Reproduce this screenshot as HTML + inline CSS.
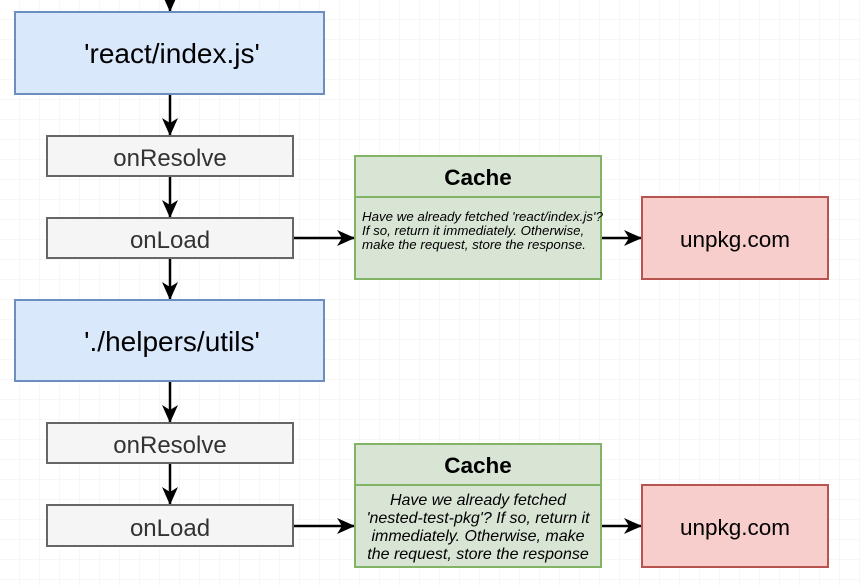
<!DOCTYPE html>
<html><head><style>
html,body{margin:0;padding:0;background:#fff}
svg{display:block}
text{font-family:"Liberation Sans",sans-serif}
</style></head><body>
<svg width="860" height="586" viewBox="0 0 860 586" xmlns="http://www.w3.org/2000/svg">
<defs>
<pattern id="g" width="20" height="20" patternUnits="userSpaceOnUse">
<path d="M20 0V20M0 20H20" stroke="#efefef" stroke-width="1" fill="none"/>
</pattern>
<marker id="a" markerWidth="18" markerHeight="16" refX="17" refY="8" orient="auto" markerUnits="userSpaceOnUse">
<path d="M0,0 L18,8 L0,16 L5,8 Z" fill="#000"/>
</marker>
</defs>
<rect width="860" height="586" fill="url(#g)"/>
<g stroke="#000" stroke-width="2.5" fill="none" marker-end="url(#a)">
<line x1="170" y1="-10" x2="170" y2="11"/>
<line x1="170" y1="95" x2="170" y2="135"/>
<line x1="170" y1="177" x2="170" y2="217"/>
<line x1="170" y1="259" x2="170" y2="299"/>
<line x1="170" y1="382" x2="170" y2="422"/>
<line x1="170" y1="464" x2="170" y2="504"/>
<line x1="294" y1="238" x2="354" y2="238"/>
<line x1="602" y1="238" x2="641" y2="238"/>
<line x1="294" y1="526" x2="354" y2="526"/>
<line x1="602" y1="526" x2="641" y2="526"/>
</g>
<g stroke="#6c8ebf" stroke-width="2" fill="#dae8fc">
<rect x="15" y="12" width="309" height="82"/>
<rect x="15" y="300" width="309" height="81"/>
</g>
<g stroke="#666" stroke-width="2" fill="#f5f5f5">
<rect x="47" y="136" width="246" height="40"/>
<rect x="47" y="218" width="246" height="40"/>
<rect x="47" y="423" width="246" height="40"/>
<rect x="47" y="505" width="246" height="41"/>
</g>
<g stroke="#82b366" stroke-width="2" fill="#d8e4d4">
<rect x="355" y="156" width="246" height="123"/>
<line x1="355" y1="197" x2="601" y2="197"/>
<rect x="355" y="444" width="246" height="123"/>
<line x1="355" y1="485" x2="601" y2="485"/>
</g>
<g stroke="#b85450" stroke-width="2" fill="#f8cecc">
<rect x="642" y="197" width="186" height="82"/>
<rect x="642" y="485" width="186" height="82"/>
</g>
<g text-anchor="middle" fill="#000">
<text x="172" y="63" font-size="28">'react/index.js'</text>
<text x="172" y="351" font-size="28">'./helpers/utils'</text>
<text x="170" y="166" font-size="24" fill="#333">onResolve</text>
<text x="170" y="248" font-size="24" fill="#333">onLoad</text>
<text x="170" y="453" font-size="24" fill="#333">onResolve</text>
<text x="170" y="536" font-size="24" fill="#333">onLoad</text>
<text x="478" y="185" font-size="22.5" font-weight="bold">Cache</text>
<text x="478" y="473" font-size="22.5" font-weight="bold">Cache</text>
<text x="735" y="247" font-size="22.5">unpkg.com</text>
<text x="735" y="535" font-size="22.5">unpkg.com</text>
</g>
<g font-size="13.3" font-style="italic" fill="#000">
<text x="362" y="221">Have we already fetched 'react/index.js'?</text>
<text x="362" y="235">If so, return it immediately. Otherwise,</text>
<text x="362" y="249">make the request, store the response.</text>
</g>
<g font-size="16" font-style="italic" fill="#000" text-anchor="middle">
<text x="478" y="505">Have we already fetched</text>
<text x="478" y="523">'nested-test-pkg'? If so, return it</text>
<text x="478" y="541">immediately. Otherwise, make</text>
<text x="478" y="559">the request, store the response</text>
</g>
</svg>
</body></html>
